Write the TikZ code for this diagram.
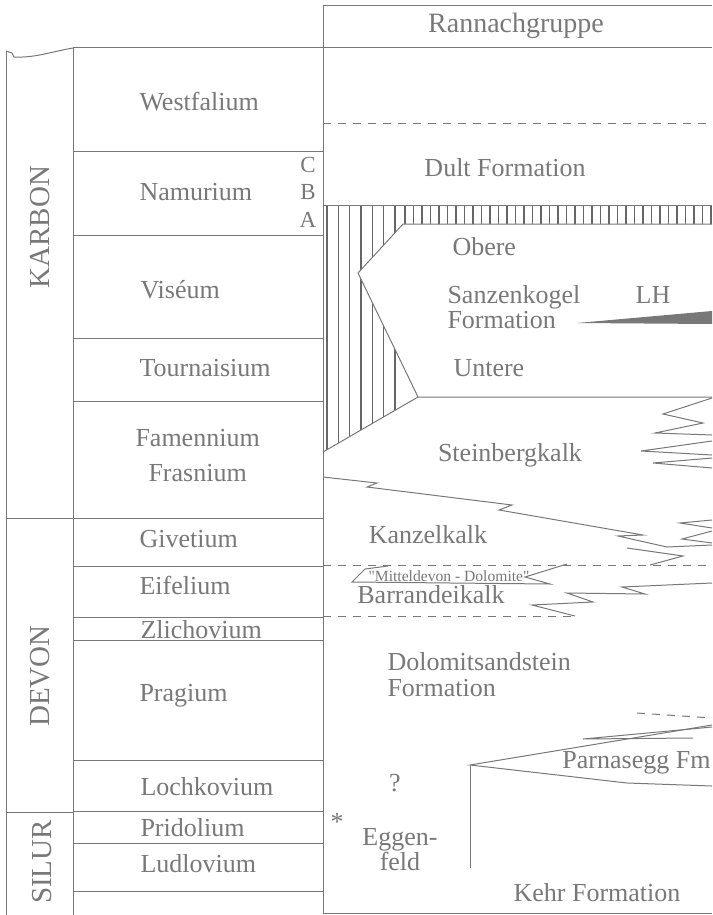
\documentclass[tikz,border=0pt]{standalone}
\usepackage{fontspec}
\setmainfont{Liberation Serif}
\newfontfamily\rawserif[Ligatures=TeXOff]{Liberation Serif}
\definecolor{ink}{HTML}{787878}
\definecolor{hatchink}{HTML}{666666}

\begin{document}
\begin{tikzpicture}[x=0.5pt, y=-0.5pt, line width=0.5pt, color=ink,
    stage/.style={anchor=west, inner sep=0pt, font=\fontsize{13}{15}\selectfont},
    unit/.style={inner sep=0pt, font=\fontsize{13}{13}\selectfont},
    period/.style={rotate=90, inner sep=0pt, font=\fontsize{14.5}{16}\selectfont},
    sub/.style={inner sep=0pt, font=\fontsize{11.5}{13}\selectfont},
    hatch/.style={line width=0.7pt, draw=hatchink},
    dsh/.style={dash pattern=on 4pt off 3.5pt}]
    \useasboundingbox (0,0) rectangle (712,915);

    \draw (6,51) -- (12,53) -- (14,57) .. controls (35,58) and (50,52) .. (73,48);
    \draw (6,51) -- (6,915);
    \draw (73,48) -- (73,915);
    \draw (6,518) -- (73,518);
    \draw (6,812) -- (73,812);
    \node[period] (karbon) at (40,227) {KARBON};
    \node[period] (devon) at (40,676) {DEVON};
    \node[period] (silur) at (42,862) {SILUR};

    \foreach \y in {151,235,338,401,518,566,617,640,760,811,843,891}
        \draw (73,\y) -- (323,\y);
    \draw (73,48) -- (712,48);
    \node[stage] (westfalium) at (139,102) {Westfalium};
    \node[stage] (namurium) at (139,192) {Namurium};
    \node[stage] (viseum) at (140,290) {Viséum};
    \node[stage] (tournaisium) at (139,368) {Tournaisium};
    \node[stage] (famennium) at (135,438) {Famennium};
    \node[stage] (frasnium) at (148,473) {Frasnium};
    \node[stage] (givetium) at (139,539) {Givetium};
    \node[stage] (eifelium) at (139,585) {Eifelium};
    \node[stage] (zlichovium) at (140,630) {Zlichovium};
    \node[stage] (pragium) at (139,696) {Pragium};
    \node[stage] (lochkovium) at (140,787) {Lochkovium};
    \node[stage] (pridolium) at (140,828) {Pridolium};
    \node[stage] (ludlovium) at (140,864) {Ludlovium};
    \node[sub] (namC) at (308,165) {C};
    \node[sub] (namB) at (308,192) {B};
    \node[sub] (namA) at (308,220) {A};

    \draw (323,6) -- (712,6);
    \draw (323,6) -- (323,913) -- (712,913);
    \draw[dsh] (323,124) -- (712,124);
    \node[unit, font=\fontsize{14}{16}\selectfont] (rannach) at (516,26) {Rannachgruppe};
    \node[unit] (dult) at (505,168) {Dult Formation};

    \begin{scope}
        \clip (323,205) -- (712,205) -- (712,224) -- (403,224) -- (358,273) -- (418,397) -- (323,452) -- cycle;
        \foreach \x in {327,338.3,...,400}
            \draw[hatch] (\x,200) -- (\x,460);
        \foreach \x in {405,413.5,...,712}
            \draw[hatch] (\x,200) -- (\x,230);
    \end{scope}
    \draw (323,205) -- (712,205);
    \draw (712,224) -- (403,224) -- (358,273) -- (418,397) -- (712,397);
    \draw (418,397) -- (323,452);
    \node[unit, anchor=west] (obere) at (452,247) {Obere};
    \node[unit, anchor=west, align=left, font=\fontsize{13}{11}\selectfont] (sanzen) at (447,307) {Sanzenkogel\\Formation};
    \node[unit, anchor=west] (untere) at (453,368) {Untere};
    \node[unit] (lh) at (653,295) {LH};
    \fill (577,323) -- (712,311) -- (712,324) -- cycle;

    \node[unit] (steinberg) at (510,455) {Steinbergkalk};
    \draw (712,398) -- (663,414) -- (703,423) -- (655,433) -- (712,435);
    \draw (712,441) -- (641,451) -- (712,455);
    \draw (712,458) -- (653,463) -- (712,468);
    \draw (323,477) -- (377,483) -- (367,487) -- (512,505) -- (499,510) -- (643,535) -- (618,536) -- (667,547) -- (712,545);
    \draw (627,548) -- (683,556) -- (650,565);
    \draw (712,520) -- (680,523) -- (712,528);
    \draw (712,531) -- (682,539) -- (712,543);

    \node[unit] (kanzel) at (428,535) {Kanzelkalk};
    \draw[dsh] (323,565) -- (712,565);
    \draw[dsh] (323,616) -- (575,616);
    \draw (388,566) -- (365,569) -- (352,582) -- (550,584) -- (525,577) -- (567,564);
    \node[unit, font=\rawserif\fontsize{7.8}{9}\selectfont] (mitteldevon) at (449,576) {"Mitteldevon - Dolomite"};
    \node[unit] (barrande) at (431,595) {Barrandeikalk};
    \draw (712,583) -- (622,587) -- (645,594) -- (567,593) -- (593,602) -- (532,605) -- (575,616);

    \node[unit, anchor=west, align=left] (dolomit) at (387,675) {Dolomitsandstein\\Formation};
    \draw[dsh] (637,713) -- (712,718);
    \draw (693,738) -- (583,739) -- (712,727);
    \draw (712,725) -- (470,765) -- (627,783) -- (712,786);
    \draw (470,765) -- (470,868);
    \node[unit, anchor=east] (parnasegg) at (711,763) {Parnasegg Fm};
    \node[unit] (frage) at (395,783) {?};
    \node[unit] (stern) at (337,822) {*};
    \node[unit, align=center, font=\fontsize{13}{12.5}\selectfont] (eggen) at (400,850) {Eggen-\\feld};
    \node[unit] (kehr) at (597,893) {Kehr Formation};
\end{tikzpicture}
\end{document}
